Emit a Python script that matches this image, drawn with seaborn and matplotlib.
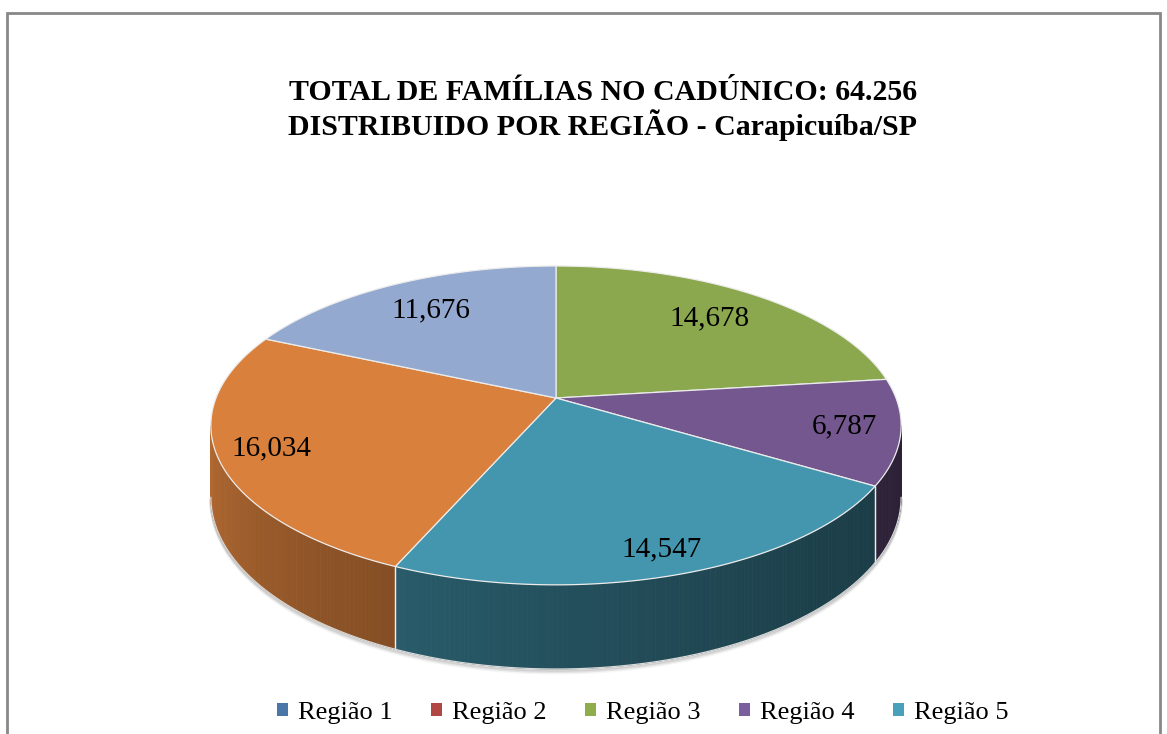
import numpy as np
import matplotlib
matplotlib.use("Agg")
import matplotlib.pyplot as plt
from matplotlib.patches import Patch, Rectangle
import matplotlib.colors as mcolors
import seaborn as sns

# data
regions = ["Região 1", "Região 2", "Região 3", "Região 4", "Região 5", "Região 6", "Região 7"]
families = [0, 0, 14678, 6787, 14547, 16034, 11676]
legend_regions = regions[:5]
slice_colors = ["#4F81BD", "#C0504D", "#8BA84F", "#74578F", "#4396AE", "#D9803C", "#93A9D0"]
legend_colors = ["#4A76A8", "#B04745", "#8FAE4B", "#7B5E9E", "#49A0BA"]
label_radius = [0.8, 0.8, 0.75, 0.84, 0.88, 0.85, 0.75]
title = "TOTAL DE FAMÍLIAS NO CADÚNICO: 64.256\nDISTRIBUIDO POR REGIÃO - Carapicuíba/SP"

sns.set_style("white")
plt.rcParams["font.family"] = ["Liberation Serif", "DejaVu Serif"]

W, H = 1167, 734
fig = plt.figure(figsize=(W / 100, H / 100), dpi=100)
ax = fig.add_axes([0, 0, 1, 1])

# 3d look: perspective a, tilt b, thickness h (units of the radius)
cx, cy, scale = 556, 398, 340
a, b, h = 0.172, 0.455, 0.205


def proj(r, phi, drop=0.0):
    # phi in degrees, clockwise from 12 o'clock
    p = np.radians(phi)
    x3, z3 = r * np.sin(p), r * np.cos(p)
    d = 1 + a * z3
    return x3 / d, (b * z3 - drop) / d


def shade(phi):
    # light from the left: bright on the left side, dark toward the right
    t = 450 - phi
    return 0.37 + 0.5 * ((360 - t) / 180) ** 1.6


vals = np.array(families, dtype=float)
bounds = np.concatenate([[0], np.cumsum(vals) / vals.sum() * 360])
palette = sns.color_palette(slice_colors)
edge = "#ececec"

# visible part of the side wall (silhouette where cos(phi) = -a)
front_lo = np.degrees(np.arccos(-a))
front_hi = 360 - front_lo

for i, col in enumerate(palette):
    p1, p2 = bounds[i], bounds[i + 1]
    if p2 - p1 <= 0:
        continue
    base = np.array(mcolors.to_rgb(col))
    lo, hi = max(p1, front_lo), min(p2, front_hi)
    if hi > lo:
        ps = np.linspace(lo, hi, int((hi - lo) / 0.7) + 2)
        for q0, q1 in zip(ps[:-1], ps[1:]):
            x0, y0 = proj(1, q0)
            x1, y1 = proj(1, q1)
            x0b, y0b = proj(1, q0, h)
            x1b, y1b = proj(1, q1, h)
            c = np.clip(base * shade((q0 + q1) / 2), 0, 1)
            ax.fill([x0, x1, x1b, x0b], [y0, y1, y1b, y0b], color=c, lw=0.6, ec=c, zorder=1)
        for q in (p1, p2):
            if front_lo < q < front_hi:
                xt, yt = proj(1, q)
                xb, yb = proj(1, q, h)
                ax.plot([xt, xb], [yt, yb], color=edge, lw=0.9, zorder=2)

# bottom rim and soft shadow
ps = np.linspace(front_lo, front_hi, 200)
rim = np.array([proj(1, q, h) for q in ps])
for k, alpha in enumerate([0.25, 0.15, 0.08]):
    ax.plot(rim[:, 0], rim[:, 1] - 0.004 * (k + 1), color="#808080", lw=2, alpha=alpha, zorder=0)
ax.plot(rim[:, 0], rim[:, 1], color="#d8d8d8", lw=0.9, zorder=2)

# top face
for i, col in enumerate(palette):
    p1, p2 = bounds[i], bounds[i + 1]
    if p2 - p1 <= 0:
        continue
    ps = np.linspace(p1, p2, int((p2 - p1) / 0.5) + 2)
    pts = np.array([proj(1, q) for q in ps])
    xs = np.concatenate([[0], pts[:, 0]])
    ys = np.concatenate([[0], pts[:, 1]])
    ax.fill(xs, ys, color=col, ec=edge, lw=0.9, zorder=3)

# data labels
for i, (v, r) in enumerate(zip(families, label_radius)):
    if v == 0:
        continue
    lx, ly = proj(r, (bounds[i] + bounds[i + 1]) / 2)
    ax.text(lx, ly, f"{v:,}", ha="center", va="center", fontsize=21, color="black", zorder=5)

ax.set_xlim(-cx / scale, (W - cx) / scale)
ax.set_ylim((cy - H) / scale, cy / scale)
ax.axis("off")

fig.text(603 / W, 1 - 110 / H, title, ha="center", va="center", fontsize=21.5,
         fontweight="bold", linespacing=1.15, color="black")

handles = [Patch(facecolor=c, edgecolor="none") for c in legend_colors]
fig.legend(handles, legend_regions, loc="center", bbox_to_anchor=(643 / W, 1 - 713 / H),
           ncol=5, frameon=False, fontsize=19, labelcolor="black", handlelength=0.4,
           handleheight=0.4, handletextpad=0.4, columnspacing=1.45)

fig.add_artist(Rectangle((7 / W, -0.05), (1160 - 7) / W, 1.05 - 12.5 / H,
                         transform=fig.transFigure, fill=False, ec="#888888", lw=2))

fig.savefig("out.png", dpi=100)
plt.close()
